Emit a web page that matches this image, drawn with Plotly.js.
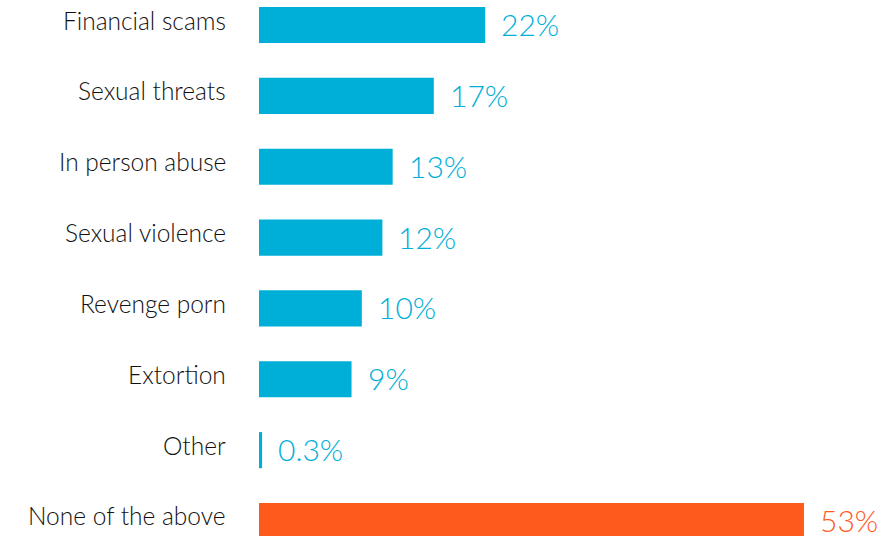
<!DOCTYPE html>
<html><head><meta charset="utf-8">
<script src="https://cdn.plot.ly/plotly-3.0.1.min.js"></script>
<style>html,body{margin:0;padding:0;background:#fff}</style>
</head><body><div id="chart" style="width:896px;height:536px"></div>
<script>
const categories = ["Financial scams","Sexual threats","In person abuse","Sexual violence","Revenge porn","Extortion","Other","None of the above"];
const values = [22, 17, 13, 12, 10, 9, 0.3, 53];
const valueLabels = ["22%","17%","13%","12%","10%","9%","0.3%","53%"];
const barColors = ["#00AFD7","#00AFD7","#00AFD7","#00AFD7","#00AFD7","#00AFD7","#00AFD7","#FF5A1D"];

const trace = {
  type: 'bar', orientation: 'h',
  x: values, y: categories,
  marker: {color: barColors},
  width: 0.51,
  hoverinfo: 'none'
};

const annotations = [];
categories.forEach((c, i) => {
  annotations.push({
    xref: 'paper', yref: 'y', x: 0, y: c, xanchor: 'right', yanchor: 'middle',
    xshift: -31, yshift: 5, text: c, showarrow: false,
    font: {family: 'Lato, sans-serif', size: 24.5, color: '#111111', weight: 300}
  });
  annotations.push({
    xref: 'x', yref: 'y', x: values[i], y: c, xanchor: 'left', yanchor: 'middle',
    xshift: 14, yshift: 1, text: valueLabels[i], showarrow: false,
    font: {family: 'Lato, sans-serif', size: 30, color: barColors[i], weight: 300}
  });
});

const layout = {
  width: 896, height: 536,
  margin: {l: 259, r: 0, t: 0, b: 0},
  paper_bgcolor: '#fff', plot_bgcolor: '#fff',
  showlegend: false,
  xaxis: {range: [0, 61.95], visible: false, fixedrange: true},
  yaxis: {type: 'category', range: [7.212, -0.353], showticklabels: false, showgrid: false, zeroline: false, showline: false, ticks: ''},
  annotations: annotations
};

Plotly.newPlot('chart', [trace], layout, {displayModeBar: false, staticPlot: true});
</script>
</body></html>
